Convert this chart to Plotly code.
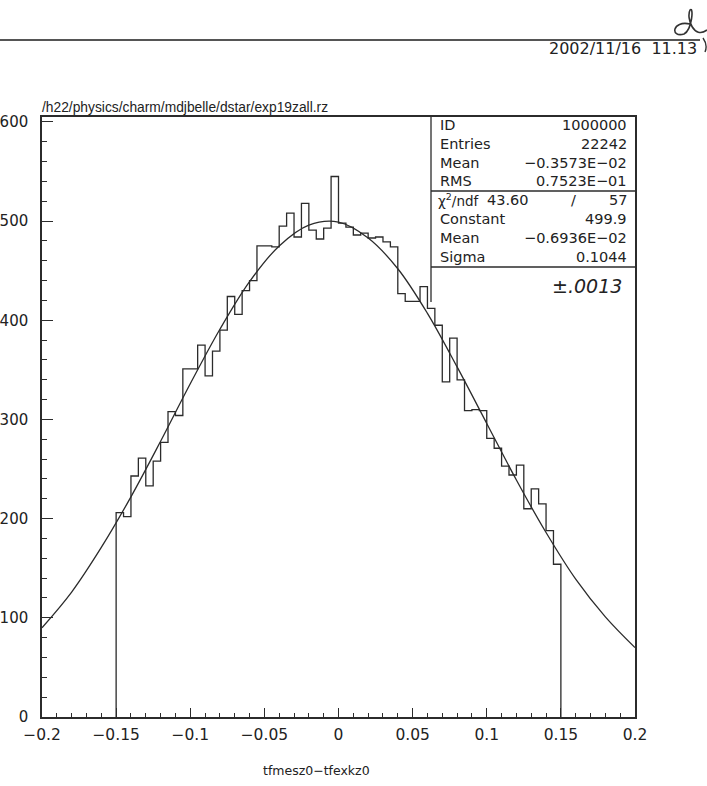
import numpy as np
import plotly.graph_objects as go

# ---------------- data ----------------
bin_low = -0.15
bin_width = 0.005
counts = [206, 202, 243, 261, 233, 258, 277, 308, 304, 351,
          351, 375, 344, 369, 390, 424, 406, 430, 440, 475,
          475, 474, 495, 508, 484, 518, 491, 482, 493, 545,
          498, 494, 486, 488, 483, 484, 479, 474, 427, 419,
          419, 434, 412, 395, 338, 382, 340, 309, 310, 309,
          281, 271, 253, 244, 254, 210, 230, 215, 188, 154]

# fitted curve, values
fit_x = [-0.20, -0.18, -0.16, -0.14, -0.12, -0.10, -0.08, -0.06, -0.04, -0.02,
         0.00, 0.02, 0.04, 0.06, 0.08, 0.10, 0.12, 0.14, 0.16, 0.18, 0.20]
fit_y = [90, 126, 171, 222, 278, 336, 391, 439, 475, 496,
         499, 483, 452, 407, 353, 296, 239, 186, 139, 101, 70]

x_tickvals = [-0.2, -0.15, -0.1, -0.05, 0, 0.05, 0.1, 0.15, 0.2]
x_ticktext = ["\u22120.2", "\u22120.15", "\u22120.1", "\u22120.05", "0", "0.05", "0.1", "0.15", "0.2"]
y_tickvals = [0, 100, 200, 300, 400, 500, 600]

stats_top = [("ID", "1000000"), ("Entries", "22242"), ("Mean", "\u22120.3573E\u221202"), ("RMS", "0.7523E\u221201")]
stats_fit = [("Constant", "499.9"), ("Mean", "\u22120.6936E\u221202"), ("Sigma", "0.1044")]
chi2_val, ndf_val = "43.60", "57"

path_title = "/h22/physics/charm/mdjbelle/dstar/exp19zall.rz"
date_text = "2002/11/16  11.13"
x_title = "tfmesz0\u2212tfexkz0"
note_text = "\u00b1.0013"

# ---------------- build ----------------
W, H = 707, 786
L, R, T, B = 42, 635, 117, 717
def px(x):
    return (x - L) / (R - L)
def py(y):
    return (B - y) / (B - T)

edges = bin_low + bin_width * np.arange(len(counts) + 1)
step_x = [edges[0]]
step_y = [0]
for i, c in enumerate(counts):
    step_x += [edges[i], edges[i + 1]]
    step_y += [c, c]
step_x += [edges[-1]]
step_y += [0]

ink = "#2b2b2b"
fig = go.Figure()
fig.add_trace(go.Scatter(x=step_x, y=step_y, mode="lines",
                         line=dict(color=ink, width=1.3), hoverinfo="skip"))
fig.add_trace(go.Scatter(x=fit_x, y=fit_y, mode="lines", line_shape="spline",
                         line=dict(color=ink, width=1.3), hoverinfo="skip"))

font = "DejaVu Sans"
fig.update_layout(
    width=W, height=H,
    margin=dict(l=L, r=W - R, t=T, b=H - B, pad=0),
    paper_bgcolor="white", plot_bgcolor="white",
    showlegend=False,
    font=dict(family=font, color="#222", size=14),
)
fig.update_xaxes(range=[-0.2, 0.2], showgrid=False, zeroline=False,
                 showline=True, linecolor=ink, linewidth=1.5, mirror=True,
                 ticks="inside", ticklen=9, tickwidth=1.2, tickcolor=ink,
                 tickvals=x_tickvals, ticktext=x_ticktext,
                 minor=dict(ticks="inside", ticklen=4, tickwidth=1, tickcolor=ink, dtick=0.01, tick0=0, showgrid=False),
                 tickfont=dict(size=15.5, family=font, color="#222"),
                 ticklabelstandoff=3, automargin=False)
fig.update_yaxes(range=[0, 605], showgrid=False, zeroline=False,
                 showline=True, linecolor=ink, linewidth=1.5, mirror=True,
                 ticks="inside", ticklen=11, tickwidth=1.2, tickcolor=ink,
                 tickvals=y_tickvals,
                 minor=dict(ticks="inside", ticklen=5, tickwidth=1, tickcolor=ink, dtick=20, tick0=0, showgrid=False),
                 tickfont=dict(size=15, family=font, color="#222"),
                 ticklabelstandoff=9, automargin=False)

shapes = []
ann = []
# top rule
shapes.append(dict(type="line", xref="paper", yref="paper", x0=px(0), x1=px(700), y0=py(40), y1=py(40),
                   line=dict(color="#555", width=2)))
# signature scribble
shapes.append(dict(type="path", xref="paper", yref="paper",
                   path="M %f %f C %f %f %f %f %f %f C %f %f %f %f %f %f C %f %f %f %f %f %f" % (
                       px(690), py(24), px(672), py(20), px(670), py(38), px(684), py(34),
                       px(692), py(30), px(694), py(6), px(690), py(10),
                       px(686), py(18), px(694), py(40), px(707), py(30)),
                   line=dict(color="#333", width=1.6)))
shapes.append(dict(type="path", xref="paper", yref="paper",
                   path="M %f %f Q %f %f %f %f" % (px(703), py(38), px(708), py(45), px(705), py(52)),
                   line=dict(color="#333", width=1.4)))
ann.append(dict(text=date_text, x=px(699), y=py(48), xref="paper", yref="paper",
                xanchor="right", yanchor="middle", showarrow=False, font=dict(size=16, family=font)))
ann.append(dict(text=path_title, x=px(40), y=py(107), xref="paper", yref="paper",
                xanchor="left", yanchor="middle", showarrow=False, font=dict(size=13.8, family="Liberation Sans")))
ann.append(dict(text=x_title, x=px(316), y=py(770), xref="paper", yref="paper",
                xanchor="center", yanchor="middle", showarrow=False, font=dict(size=12.5, family=font)))

# stats box
bx0, bx1 = 431, 635
sep_y, bot_y = 191, 267
fs = 14.5
shapes.append(dict(type="line", xref="paper", yref="paper", x0=px(bx0), x1=px(bx0), y0=py(T), y1=py(302),
                   line=dict(color=ink, width=1.3)))
for yy in (sep_y, bot_y):
    shapes.append(dict(type="line", xref="paper", yref="paper", x0=px(bx0), x1=px(bx1), y0=py(yy), y1=py(yy),
                       line=dict(color=ink, width=1.3)))
row_h = 18.8
for i, (k, v) in enumerate(stats_top):
    yy = 125 + i * row_h
    ann.append(dict(text=k, x=px(438), y=py(yy), xref="paper", yref="paper", xanchor="left", yanchor="middle",
                    showarrow=False, font=dict(size=fs, family=font)))
    ann.append(dict(text=v, x=px(629), y=py(yy), xref="paper", yref="paper", xanchor="right", yanchor="middle",
                    showarrow=False, font=dict(size=fs, family=font)))
yy = 200
ann.append(dict(text="\u03c7<sup>2</sup>/ndf", x=px(436), y=py(yy), xref="paper", yref="paper", xanchor="left",
                yanchor="middle", showarrow=False, font=dict(size=13.5, family=font)))
ann.append(dict(text=chi2_val, x=px(531), y=py(yy), xref="paper", yref="paper", xanchor="right",
                yanchor="middle", showarrow=False, font=dict(size=fs, family=font)))
ann.append(dict(text="/", x=px(573), y=py(yy), xref="paper", yref="paper", xanchor="center",
                yanchor="middle", showarrow=False, font=dict(size=fs, family=font)))
ann.append(dict(text=ndf_val, x=px(629), y=py(yy), xref="paper", yref="paper", xanchor="right",
                yanchor="middle", showarrow=False, font=dict(size=fs, family=font)))
for i, (k, v) in enumerate(stats_fit):
    yy = 219 + i * row_h
    ann.append(dict(text=k, x=px(438), y=py(yy), xref="paper", yref="paper", xanchor="left", yanchor="middle",
                    showarrow=False, font=dict(size=fs, family=font)))
    ann.append(dict(text=v, x=px(629), y=py(yy), xref="paper", yref="paper", xanchor="right", yanchor="middle",
                    showarrow=False, font=dict(size=fs, family=font)))
ann.append(dict(text="<i>" + note_text + "</i>", x=px(624), y=py(286), xref="paper", yref="paper",
                xanchor="right", yanchor="middle", showarrow=False, font=dict(size=19, family=font)))

fig.update_layout(shapes=shapes, annotations=ann)
fig.write_html("out.html")
